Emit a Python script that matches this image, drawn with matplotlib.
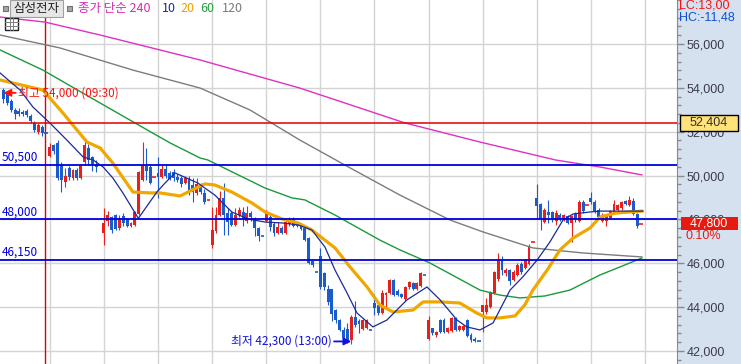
import numpy as np
import matplotlib
matplotlib.use("Agg")
import matplotlib.pyplot as plt
from matplotlib import transforms
from matplotlib.patches import Rectangle
from matplotlib.ticker import FixedLocator, MultipleLocator, FuncFormatter

plt.rcParams['font.family'] = ['Noto Sans CJK KR', 'DejaVu Sans']

# 30-min candles, 13 bars + closing auction per session (first session partial)
opens = [53900, 53700, 53400, 53000, 52950, 52900, 52950, 52700, 52400, 52000, 52200, 51950,
         50900, 51400, 51500, 50500, 49700, 50350, 49900, 50250, 49900, 50600, 51250, 50850, 50500, 51250,
         47400, 47950, 48100, 48200, 47600, 48150, 48000, 47700, 47750, 48250, 49800, 50450, 50400, 49950,
         50100, 49950, 50300, 50100, 50150, 49950, 49900, 49650, 49850, 49550, 49200, 49550, 49200, 48900,
         46850, 47450, 48200, 49000, 48300, 48300, 47750, 48200, 48350, 47950, 48300, 48050, 47600, 47250,
         47950, 48100, 47800, 47400, 47600, 47400, 47800, 48000, 47750, 47700, 47600, 47150, 46100, 45600,
         46350, 45550, 44850, 44850, 43850, 43400, 42950, 43000, 42500, 43550, 43350, 43000, 43050, 42950,
         44200, 44100, 43750, 44550, 44650, 45250, 44750, 44600, 44350, 44900, 45100, 44850, 44950, 45450,
         42550, 43050, 42750, 43400, 43400, 42850, 42900, 43500, 42950, 42950, 43400, 42750, 42550, 42450,
         43800, 43800, 44000, 44650, 45300, 46150, 45550, 45700, 45250, 45450, 45950, 45800, 45950, 46950,
         49000, 48700, 47900, 48350, 48350, 47950, 48200, 48000, 48150, 47850, 48250, 47950, 48800, 48650,
         49000, 48800, 48450, 47950, 47950, 48050, 48300, 48450, 48500, 48850, 48650, 48850, 48250, 47800]
highs = [54000, 53800, 53500, 53100, 53100, 53000, 53050, 52800, 52500, 52400, 52300, 51950,
         51500, 51450, 51600, 50600, 50350, 50450, 50300, 50350, 50550, 51700, 51450, 50900, 50700, 51250,
         48500, 48400, 48150, 48250, 48200, 48300, 48050, 47900, 48400, 50200, 51550, 51250, 50500, 49950,
         50850, 50500, 50500, 50200, 50300, 50050, 50000, 50000, 50000, 49900, 49900, 49650, 49400, 48900,
         48550, 48550, 49300, 49650, 48500, 48400, 48500, 48550, 48550, 48600, 48400, 48100, 47650, 47250,
         48450, 48200, 47900, 47900, 47700, 48000, 48100, 48100, 47800, 47850, 47700, 47200, 46150, 45600,
         46700, 45600, 45000, 44850, 43900, 43450, 43100, 43300, 43650, 44300, 43450, 43450, 43450, 42950,
         44600, 44200, 44800, 44700, 45300, 45300, 44850, 44650, 44950, 45200, 45150, 45150, 45600, 45450,
         43600, 43050, 42900, 43450, 43500, 43100, 43550, 43550, 43200, 43200, 43450, 42800, 42650, 42450,
         44100, 44400, 44750, 45650, 46450, 46350, 45800, 45750, 45700, 46000, 46050, 46200, 46900, 46950,
         49600, 48750, 48500, 48900, 48400, 48450, 48300, 48250, 48200, 48200, 48350, 48900, 48900, 48650,
         49250, 48900, 48500, 48300, 48250, 48450, 48900, 48700, 48850, 48900, 49050, 49000, 48300, 47800]
lows = [53300, 53200, 52900, 52600, 52700, 52700, 52650, 52400, 52000, 51900, 51800, 51950,
        50850, 51000, 49800, 49250, 49500, 49800, 49800, 49800, 49850, 50500, 50500, 50200, 50150, 51250,
        46850, 47700, 47400, 47500, 47500, 47700, 47650, 47650, 47700, 48200, 49750, 49800, 49600, 49950,
        49000, 49900, 49900, 49800, 49750, 49700, 49500, 49600, 49100, 48800, 49100, 49150, 48700, 48900,
        46700, 47400, 48150, 47300, 47300, 47700, 47700, 48100, 47700, 47850, 47950, 47250, 47000, 47250,
        47900, 47450, 47250, 47350, 47350, 47350, 47700, 47650, 47650, 47500, 47000, 45950, 45850, 45600,
        44850, 44800, 44100, 43350, 43300, 42900, 42450, 42350, 42300, 43100, 42800, 42950, 43000, 42950,
        43650, 43650, 43700, 44000, 44600, 44500, 44500, 44400, 44300, 44850, 44800, 44800, 44900, 45450,
        42500, 42750, 42650, 42800, 42800, 42800, 42850, 42900, 42900, 42900, 42650, 42400, 42400, 42450,
        42850, 43700, 43950, 44600, 45200, 45450, 45400, 45000, 45200, 45400, 45500, 45750, 45900, 46950,
        48000, 47500, 47850, 47850, 47900, 47750, 47950, 47950, 47800, 46950, 47900, 47900, 48300, 48650,
        48700, 48300, 48050, 47900, 47700, 48000, 48250, 48400, 48450, 48650, 48600, 48200, 47600, 47800]
closes = [53500, 53300, 53000, 52800, 52800, 52800, 52750, 52500, 52100, 52300, 51950, 51950,
          51300, 51100, 49900, 49800, 50000, 49950, 50250, 49900, 50500, 51400, 50700, 50550, 50400, 51250,
          47850, 48200, 47500, 47550, 48050, 47850, 47700, 47850, 48350, 50150, 50500, 50200, 49650, 49950,
          49950, 50300, 50000, 49850, 49900, 49800, 49600, 49900, 49200, 49250, 49600, 49250, 48800, 48900,
          47500, 48200, 49000, 48200, 47900, 47750, 48200, 48450, 48000, 48300, 48100, 47600, 47250, 47250,
          48300, 47650, 47400, 47650, 47400, 47900, 48000, 47700, 47700, 47550, 47050, 46000, 45900, 45600,
          44900, 44900, 44250, 43700, 43400, 42950, 42600, 42500, 43550, 43200, 43250, 43400, 43400, 42950,
          43950, 43750, 44650, 44650, 45250, 44550, 44550, 44450, 44900, 45150, 44850, 45100, 45550, 45450,
          43400, 42800, 42850, 42850, 42850, 43050, 43500, 42950, 43150, 43150, 42700, 42500, 42450, 42450,
          44100, 44100, 44700, 45600, 46150, 45700, 45700, 45200, 45600, 45900, 45600, 46150, 46750, 46950,
          48600, 48000, 48450, 48200, 48000, 48300, 48000, 48200, 47850, 48150, 48000, 48800, 48400, 48650,
          48800, 48400, 48100, 48200, 48200, 48400, 48700, 48650, 48800, 48700, 48900, 48250, 47700, 47800]

# moving averages (bar index, price)
ma10_x = [-0.9, 4.3, 7.6, 12.0, 16.4, 20.6, 23.2, 25.8, 28.3, 30.9, 34.9, 39.7, 41.8, 44.4, 50.3,
          54.7, 59.1, 63.3, 67.7, 72.1, 76.2, 79.8, 83.2, 85.8, 88.9, 91.5, 95.6, 99.2, 104.4, 109.6,
          113.0, 117.4, 119.9, 123.3, 126.7, 131.1, 134.4, 138.1, 141.4, 144.8, 147.4, 151.8, 154.4, 165.5]
ma10_v = [54680, 53900, 53130, 52400, 51620, 50850, 50710, 50390, 49890, 49210, 48050, 49250, 49660, 50120, 49660,
          49110, 48340, 48020, 47880, 47840, 47750, 47520, 46740, 45690, 44650, 43730, 43100, 43410, 44330, 44920,
          44330, 43410, 43100, 42960, 43280, 44780, 45380, 46150, 46970, 47970, 48250, 48340, 48380, 48380]
ma20_x = [-0.9, 10.2, 15.4, 21.6, 25.0, 28.3, 33.5, 37.9, 40.5, 45.7, 48.8, 52.1, 54.7, 59.1, 64.3,
          67.7, 72.1, 76.2, 79.8, 85.8, 89.7, 94.1, 97.4, 100.8, 106.0, 108.6, 113.0, 118.1, 122.5, 125.1,
          128.5, 132.4, 134.9, 137.0, 140.7, 144.0, 147.4, 151.8, 154.4, 158.3, 165.2]
ma20_v = [54360, 53900, 52850, 51530, 51260, 50570, 49250, 49210, 49210, 49070, 49340, 49620, 49570, 49250, 48750,
          48340, 48020, 47840, 47520, 46700, 45830, 44920, 44100, 43780, 43870, 44240, 44240, 44190, 43730, 43510,
          43510, 43600, 44100, 44780, 45690, 46610, 47150, 47610, 48110, 48290, 48380]
ma60_x = [-0.9, 10.2, 25.0, 37.9, 43.1, 50.9, 52.9, 67.7, 74.7, 78.0, 85.8, 97.4, 102.6, 110.4, 123.3,
          128.5, 133.7, 140.1, 146.6, 154.4, 159.5, 165.2]
ma60_v = [55730, 54810, 53310, 52010, 51490, 50800, 50710, 49430, 48980, 48890, 48200, 47060, 46610, 46010, 44780,
          44550, 44420, 44510, 44780, 45470, 45830, 46240]
ma120_x = [-0.9, 14.6, 33.5, 50.9, 63.8, 76.7, 89.7, 102.6, 115.6, 124.1, 137.0, 150.0, 165.2]
ma120_v = [56410, 55820, 54810, 53990, 52990, 51620, 50350, 49110, 47970, 47430, 46700, 46470, 46290]
ma240_x = [-0.9, 10.7, 25.0, 50.9, 76.7, 103.9, 123.3, 142.9, 154.4, 165.2]
ma240_v = [57230, 57000, 56410, 55270, 53990, 52400, 51530, 50710, 50390, 50030]

level_values = [50500, 48000, 46150]
level_labels = ["50,500", "48,000", "46,150"]
ref_price = 52404
last_price = 47800
last_change = "0.10%"
high_time = "09:30"
low_time = "13:00"
lc_text = "LC:13,00"
hc_text = "HC:-11,48"
stock_name = "삼성전자"
legend_periods = ["10", "20", "60", "120"]

W, H = 741, 364
UP, DOWN = '#e8201c', '#1a5ccc'


def fx(px):
    return px / W


def fy(py):
    return 1 - py / H


def main() -> None:
    o, h, l, c = (np.asarray(a, dtype=float) for a in (opens, highs, lows, closes))
    n = len(c)
    x = np.arange(n)
    prev = np.r_[c[0], c[:-1]]
    up = (c > o) | ((c == o) & (c > prev))
    cols = np.where(up, UP, DOWN)

    fig = plt.figure(figsize=(W / 100, H / 100), dpi=100)
    fig.patch.set_facecolor('#d6e1f0')
    ax = fig.add_axes([0, 0, fx(677), 1])
    ax.set_facecolor('white')
    ax.set_xlim(-0.9, 174.3)
    ylo, yhi = 41408, 58006
    ax.set_ylim(ylo, yhi)
    px_price = (yhi - ylo) / H

    for s in ('left', 'top', 'bottom'):
        ax.spines[s].set_visible(False)
    ax.spines['right'].set_color('#8a8a8a')
    ax.set_xticks([])
    ax.yaxis.tick_right()
    ax.yaxis.set_major_locator(FixedLocator(np.arange(42000, 56001, 2000)))
    ax.yaxis.set_minor_locator(MultipleLocator(400))
    ax.yaxis.set_major_formatter(FuncFormatter(lambda v, _: f"{v:,.0f}"))
    ax.tick_params(axis='y', which='major', direction='out', length=5, width=1,
                   color='#8a8a8a', labelsize=9, labelcolor='#3a3a4a', pad=2,
                   labelfontfamily='Liberation Sans')
    ax.tick_params(axis='y', which='minor', direction='out', length=3, width=1, color='#8a8a8a')

    # grid: price every 2000, one vertical line per session
    for v in np.arange(42000, 56001, 2000):
        ax.axhline(v, color='#d4d4d4', lw=1, zorder=0)
    for d in np.arange(12, n + 1, 14):
        ax.axvline(d, color='#d4d4d4', lw=1, zorder=0)
    ax.axvline(10.75, color='#e00000', lw=1, zorder=1)

    # candles
    ax.vlines(x, l, h, colors=cols, lw=0.8, zorder=3)
    body = np.abs(c - o)
    solid = body > 0
    ax.bar(x[solid], body[solid], bottom=np.minimum(o, c)[solid], width=0.75,
           color=cols[solid], lw=0, zorder=3)
    ax.hlines(c[~solid], x[~solid] - 0.45, x[~solid] + 0.45, colors=cols[~solid], lw=1.2, zorder=3)

    # moving averages
    ax.plot(ma240_x, ma240_v, color='#e030c0', lw=1.0, zorder=4)
    ax.plot(ma120_x, ma120_v, color='#7c7c7c', lw=1.0, zorder=4)
    ax.plot(ma60_x, ma60_v, color='#1a9a3a', lw=1.0, zorder=4)
    ax.plot(ma20_x, ma20_v, color='#f0a800', lw=2.3, zorder=4)
    ax.plot(ma10_x, ma10_v, color='#1a2a9a', lw=0.9, zorder=5)

    # reference levels
    ax.axhline(ref_price, color='#e00000', lw=1.1, zorder=5)
    ytrans = ax.get_yaxis_transform()
    for v, lab in zip(level_values, level_labels):
        ax.axhline(v, color='#0000e0', lw=1.3, zorder=5)
        ax.annotate(lab, xy=(0.003, v), xycoords=ytrans, xytext=(0, 1), textcoords='offset pixels',
                    ha='left', va='bottom', color='#0000e0', fontsize=8.5)

    # high / low markers
    ih = int(np.argmax(h))
    il = int(np.argmin(l))
    hi_tr = transforms.offset_copy(ax.transData, fig=fig, x=0, y=-5, units='dots')
    ax.annotate(f"최고 {int(h[ih]):,} ({high_time})", xy=(ih, h[ih]), xycoords=hi_tr,
                xytext=(15, 0), textcoords='offset pixels', ha='left', va='center',
                color='#ff1010', fontsize=8.5, zorder=6,
                arrowprops=dict(arrowstyle='-|>,head_length=0.5,head_width=0.25',
                                color='#ff1010', lw=1.3, shrinkA=0, shrinkB=0))
    lo_tr = transforms.offset_copy(ax.transData, fig=fig, x=0, y=3, units='dots')
    ax.annotate(f"최저 {int(l[il]):,} ({low_time})", xy=(il, l[il]), xycoords=lo_tr,
                xytext=(-20, 0), textcoords='offset pixels', ha='right', va='center',
                color='#1010e0', fontsize=8.5, zorder=6,
                arrowprops=dict(arrowstyle='-|>,head_length=0.5,head_width=0.25',
                                color='#1010e0', lw=1.3, shrinkA=0, shrinkB=0))

    # right panel price tags
    btr = transforms.blended_transform_factory(fig.transFigure, ax.transData)
    bh = 16 * px_price
    fig.add_artist(Rectangle((fx(680), ref_price - bh / 2), fx(738) - fx(680), bh, transform=btr,
                             fc='#ffe27a', ec='black', lw=1, zorder=5))
    fig.text(fx(709), ref_price, f"{ref_price:,}", transform=btr, ha='center', va='center',
             fontsize=9, color='#303030', family='Liberation Sans', zorder=6)
    bh2 = 13 * px_price
    fig.add_artist(Rectangle((fx(681), last_price - bh2 / 2), fx(738) - fx(681), bh2, transform=btr,
                             fc='#e81a10', ec='none', zorder=5))
    fig.text(fx(709), last_price, f"{last_price:,}", transform=btr, ha='center', va='center',
             fontsize=9, color='white', family='Liberation Sans', zorder=6)
    fig.text(fx(685), fy(236), last_change, ha='left', va='center', fontsize=9,
             color='#e81a10', family='Liberation Sans')
    fig.text(fx(679), fy(6), lc_text, ha='left', va='center', fontsize=9,
             color='#ff1010', family='Liberation Sans')
    fig.text(fx(679), fy(17), hc_text, ha='left', va='center', fontsize=9,
             color='#1050d0', family='Liberation Sans')

    # top legend strip
    fig.add_artist(Rectangle((fx(3), fy(11)), fx(5), 5 / H, fc='#a8a8a8', ec='#707070', lw=0.8))
    fig.add_artist(Rectangle((fx(10), fy(17)), fx(53), 17 / H, fc='#e6e6e6', ec='#a0a0a0', lw=0.8))
    fig.text(fx(36.5), fy(8.5), stock_name, ha='center', va='center', fontsize=9, color='#202020')
    fig.add_artist(Rectangle((fx(67), fy(11)), fx(5), 5 / H, fc='#a8a8a8', ec='#707070', lw=0.8))
    fig.text(fx(78), fy(8.5), "종가 단순 240", ha='left', va='center', fontsize=9, color='#d42cb4')
    legend_x = [162, 180, 200, 222]
    legend_cols = ['#1a2a9a', '#f0a000', '#20a040', '#7a7a7a']
    for lx, lab, lc in zip(legend_x, legend_periods, legend_cols):
        fig.text(fx(lx), fy(8.5), lab, ha='left', va='center', fontsize=9, color=lc)

    # small table icon
    fig.add_artist(Rectangle((fx(5), fy(30)), fx(13), 12 / H, fc='white', ec='#202020', lw=1))
    for gx in (9.5, 13.5):
        fig.add_artist(plt.Line2D([fx(gx), fx(gx)], [fy(30), fy(18)], color='#808080', lw=0.7))
    for gy in (22, 26):
        fig.add_artist(plt.Line2D([fx(5), fx(18)], [fy(gy), fy(gy)], color='#808080', lw=0.7))

    fig.savefig("out.png", dpi=100, facecolor=fig.get_facecolor())
    plt.close(fig)


if __name__ == "__main__":
    main()
